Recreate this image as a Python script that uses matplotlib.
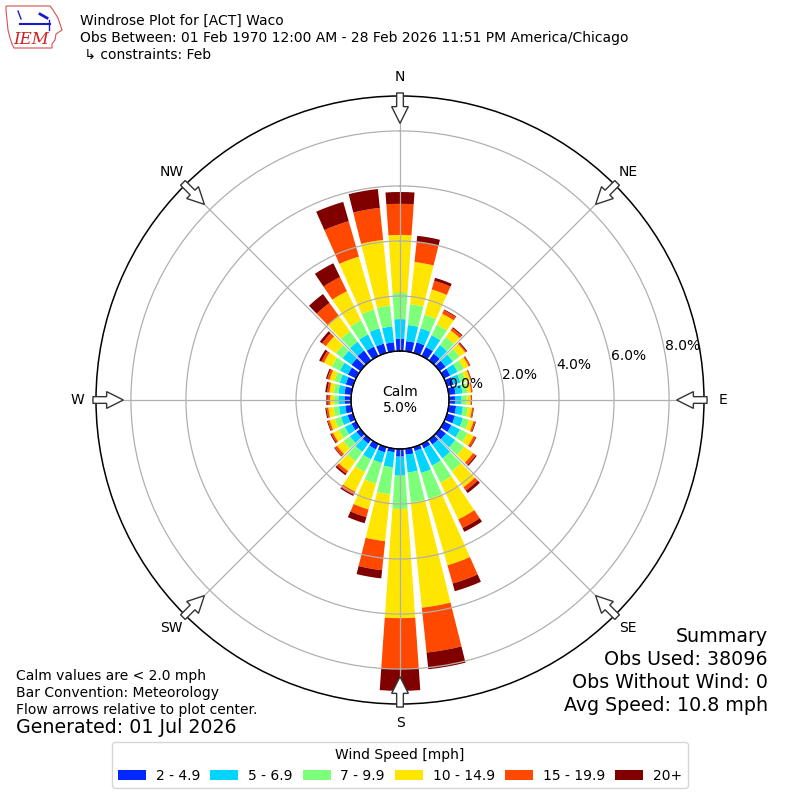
import numpy as np
import matplotlib.pyplot as plt
from matplotlib.patches import FancyArrow, Polygon

# wind directions (deg, meteorological) and speed classes
directions = np.arange(0, 360, 10)
speed_labels = ['2 - 4.9', '5 - 6.9', '7 - 9.9', '10 - 14.9', '15 - 19.9', '20+']
speed_colors = ['#0028ff', '#00d4ff', '#7cff79', '#ffe600', '#ff4800', '#800000']

# frequency [%] of each speed class per direction
freq_2_5 = [.44, .37, .40, .36, .30, .27, .25, .25, .25, .22, .27, .30,
            .30, .28, .22, .18, .15, .22, .28, .13, .20, .22, .18, .18,
            .18, .20, .22, .24, .25, .27, .33, .40, .44, .38, .35, .33]
freq_5_7 = [.72, .59, .53, .48, .39, .33, .30, .25, .25, .24, .25, .30,
            .35, .42, .62, .69, .83, .65, .69, .55, .40, .40, .37, .29,
            .27, .25, .23, .22, .22, .23, .32, .40, .40, .49, .58, .58]
freq_7_10 = [.95, .76, .51, .43, .36, .30, .25, .20, .18, .18, .18, .23,
             .30, .40, .58, .69, .98, 1.09, 1.21, .99, .78, .51, .43, .29,
             .25, .23, .20, .15, .17, .20, .33, .30, .47, .57, .71, .76]
freq_10_15 = [2.11, 1.54, .96, .44, .30, .25, .20, .17, .14, .15, .15, .17,
              .25, .40, .72, 1.49, 2.51, 3.85, 3.97, 1.71, .98, .80, .44, .29,
              .23, .20, .19, .15, .16, .18, .32, .45, .69, 1.18, 2.00, 2.40]
freq_15_20 = [1.13, .74, .33, .14, .10, .05, .05, .03, .04, .03, .05, .06,
              .08, .12, .15, .35, .69, 1.64, 1.85, 1.06, .29, .12, .11, .10,
              .07, .07, .07, .09, .08, .09, .10, .17, .58, .57, 1.34, 1.17]
freq_20p = [.43, .22, .11, .03, .04, .04, .02, .02, .01, .02, .02, .03,
            .03, .05, .11, .15, .29, .61, .79, .30, .23, .05, .07, .03,
            .04, .03, .04, .05, .07, .05, .09, .10, .40, .56, .73, .69]
speed_bins = [freq_2_5, freq_5_7, freq_7_10, freq_10_15, freq_15_20, freq_20p]

calm_pct = 5.0
ring_ticks = [0, 2, 4, 6, 8]
compass_names = ['N', 'NE', 'E', 'SE', 'S', 'SW', 'W', 'NW']
compass_deg = [0, 45, 90, 135, 180, 225, 270, 315]

fig = plt.figure(figsize=(8, 8), dpi=100)
ax = fig.add_axes([0.12, 0.12, 0.76, 0.76], projection='polar')
ax.set_theta_zero_location('N')
ax.set_theta_direction(-1)

theta = np.deg2rad(directions)
bottom = np.zeros(len(directions))
for vals, lab, col in zip(speed_bins, speed_labels, speed_colors):
    vals = np.array(vals)
    ax.bar(theta, vals, width=np.deg2rad(8), bottom=bottom, color=col,
           label=lab, linewidth=0)
    bottom += vals

ax.set_rorigin(-1.78)
ax.set_ylim(0, 9.27)
ax.set_yticks(ring_ticks)
ax.set_yticklabels([f'{t:.1f}%' for t in ring_ticks], fontsize=10)
ax.set_rlabel_position(80)
ax.set_xticks(np.deg2rad(compass_deg))
ax.set_xticklabels([])
ax.grid(True, color='#b0b0b0', lw=0.9)
ax.spines['polar'].set_linewidth(1.1)

# calm circle
ring = np.linspace(0, 2 * np.pi, 300)
ax.plot(ring, np.zeros_like(ring), color='k', lw=1, clip_on=False, zorder=3)
ax.text(0.5, 0.5, f'Calm\n{calm_pct:.1f}%', transform=ax.transAxes,
        ha='center', va='center', fontsize=10)

# compass labels and flow arrows
for name, deg in zip(compass_names, compass_deg):
    s, c = np.sin(np.deg2rad(deg)), np.cos(np.deg2rad(deg))
    ax.text(0.5 + 0.531 * s, 0.5 + 0.531 * c, name, transform=ax.transAxes,
            ha='center', va='center', fontsize=10)
    arr = FancyArrow(0.5 + 0.505 * s, 0.5 + 0.505 * c, -0.05 * s, -0.05 * c,
                     width=0.011, head_width=0.0275, head_length=0.0275,
                     length_includes_head=True, fc='white', ec='#333333',
                     lw=1, transform=ax.transAxes, clip_on=False, zorder=6)
    ax.add_artist(arr)


def fy(px):
    return 1 - px / 800


# header
fig.text(0.1, fy(25), 'Windrose Plot for [ACT] Waco', fontsize=10)
fig.text(0.1, fy(42), 'Obs Between: 01 Feb 1970 12:00 AM - 28 Feb 2026 11:51 PM America/Chicago',
         fontsize=10)
fig.text(0.1, fy(59), ' \u21b3 constraints: Feb', fontsize=10)

# simple logo
logo_px = [(6, 6), (50, 6), (53, 10), (58, 18), (60, 24), (62, 30), (56, 34),
           (55, 40), (52, 44), (52, 48), (14, 48), (12, 44), (10, 38), (8, 30),
           (7, 20), (6, 10)]
fig.add_artist(Polygon([(x / 800, fy(y)) for x, y in logo_px], closed=True,
                       fill=False, ec='#d85050', lw=0.8,
                       transform=fig.transFigure))
fig.add_artist(plt.Line2D([20 / 800, 50 / 800], [fy(24), fy(24)], color='#1a1acc',
                          lw=1.5, transform=fig.transFigure))
fig.add_artist(plt.Line2D([18 / 800, 21 / 800], [fy(11), fy(19)], color='#1a1acc',
                          lw=1, transform=fig.transFigure))
fig.add_artist(plt.Line2D([40 / 800, 47 / 800], [fy(14), fy(18)], color='#1a1acc',
                          lw=2, transform=fig.transFigure))
fig.add_artist(plt.Line2D([49 / 800, 49 / 800], [fy(20), fy(30)], color='#1a1acc',
                          lw=1, transform=fig.transFigure))
fig.text(31 / 800, fy(44), 'IEM', fontsize=12, color='#cc2222', family='serif',
         style='italic', ha='center')

# notes
fig.text(0.02, fy(680), 'Calm values are < 2.0 mph', fontsize=10)
fig.text(0.02, fy(697), 'Bar Convention: Meteorology', fontsize=10)
fig.text(0.02, fy(714), 'Flow arrows relative to plot center.', fontsize=10)
fig.text(0.02, fy(733), 'Generated: 01 Jul 2026', fontsize=13.7)

summary = ['Summary', 'Obs Used: 38096', 'Obs Without Wind: 0', 'Avg Speed: 10.8 mph']
for i, line in enumerate(summary):
    fig.text(0.96, fy(642 + 23 * i), line, fontsize=13.7, ha='right')

fig.legend(loc='lower center', bbox_to_anchor=(0.5, 0.006), ncol=6,
           title='Wind Speed [mph]', fontsize=10, title_fontsize=10,
           handlelength=2.0, handletextpad=0.7, columnspacing=0.75)

fig.savefig('out.png', dpi=100)
